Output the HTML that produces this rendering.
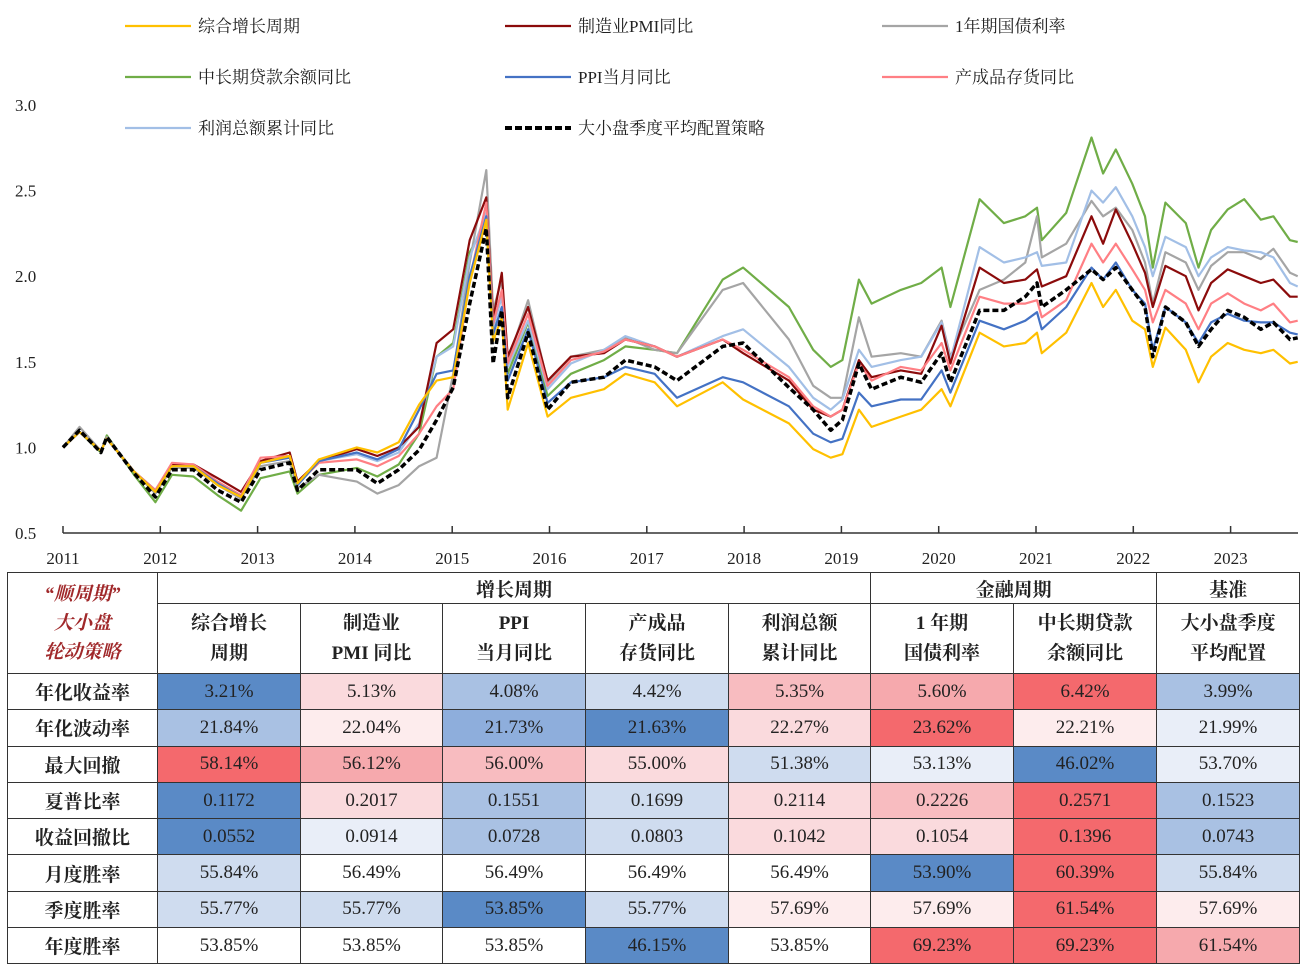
<!DOCTYPE html>
<html><head><meta charset="utf-8">
<style>
body{margin:0;width:1308px;height:963px;background:#fff;overflow:hidden;position:relative;font-family:"Liberation Serif","Noto Serif CJK SC",serif;}
#chart{position:absolute;left:0;top:0;}
table{position:absolute;left:7px;top:572px;border-collapse:collapse;table-layout:fixed;width:1292px;}
td{border:1.5px solid #333;text-align:center;font-size:19px;color:#222;padding:0;overflow:hidden;white-space:nowrap;}
.h1 td{height:30px;font-weight:bold;}
.h2 td{height:69px;line-height:30px;font-weight:bold;}
.r td{height:35.3px;}
.r td:first-child{font-weight:bold;}
.corner{color:#a0282a;font-style:italic;font-weight:bold;line-height:29px;}
.db{background:#5a8ac6}.mb{background:#a9c1e3}.lb{background:#cfdcef}.vb{background:#e9eef8}
.w{background:#fff}.vp{background:#fdeced}.lp{background:#fadadd}.pp{background:#f8bcc0}.mp{background:#f6a9ad}.rd{background:#f4696d}
</style></head><body>
<svg id="chart" width="1308" height="572" font-family="Liberation Serif, Noto Serif CJK SC, serif"></svg>
<table>
<colgroup><col style="width:150px"><col style="width:143px"><col style="width:142px"><col style="width:143px"><col style="width:143px"><col style="width:142px"><col style="width:143px"><col style="width:143px"><col style="width:143px"></colgroup>
<tr class="h1"><td rowspan="2" class="corner">“顺周期”<br>大小盘<br>轮动策略</td><td colspan="5">增长周期</td><td colspan="2">金融周期</td><td>基准</td></tr>
<tr class="h2"><td>综合增长<br>周期</td><td>制造业<br>PMI 同比</td><td>PPI<br>当月同比</td><td>产成品<br>存货同比</td><td>利润总额<br>累计同比</td><td>1 年期<br>国债利率</td><td>中长期贷款<br>余额同比</td><td>大小盘季度<br>平均配置</td></tr>
<tr class="r"><td>年化收益率</td><td class="db">3.21%</td><td class="lp">5.13%</td><td class="mb">4.08%</td><td class="lb">4.42%</td><td class="pp">5.35%</td><td class="mp">5.60%</td><td class="rd">6.42%</td><td class="mb">3.99%</td></tr>
<tr class="r"><td>年化波动率</td><td class="mb">21.84%</td><td class="vp">22.04%</td><td class="mb" style="background:#8eaedc">21.73%</td><td class="db">21.63%</td><td class="lp">22.27%</td><td class="rd">23.62%</td><td class="vp">22.21%</td><td class="vb">21.99%</td></tr>
<tr class="r"><td>最大回撤</td><td class="rd">58.14%</td><td class="mp">56.12%</td><td class="pp">56.00%</td><td class="lp">55.00%</td><td class="lb">51.38%</td><td class="vb">53.13%</td><td class="db">46.02%</td><td class="vb">53.70%</td></tr>
<tr class="r"><td>夏普比率</td><td class="db">0.1172</td><td class="lp">0.2017</td><td class="mb">0.1551</td><td class="lb">0.1699</td><td class="lp">0.2114</td><td class="pp">0.2226</td><td class="rd">0.2571</td><td class="mb">0.1523</td></tr>
<tr class="r"><td>收益回撤比</td><td class="db">0.0552</td><td class="vb">0.0914</td><td class="mb">0.0728</td><td class="lb">0.0803</td><td class="lp">0.1042</td><td class="lp">0.1054</td><td class="rd">0.1396</td><td class="mb">0.0743</td></tr>
<tr class="r"><td>月度胜率</td><td class="lb">55.84%</td><td class="w">56.49%</td><td class="w">56.49%</td><td class="w">56.49%</td><td class="w">56.49%</td><td class="db">53.90%</td><td class="rd">60.39%</td><td class="lb">55.84%</td></tr>
<tr class="r"><td>季度胜率</td><td class="lb">55.77%</td><td class="lb">55.77%</td><td class="db">53.85%</td><td class="lb">55.77%</td><td class="vp">57.69%</td><td class="vp">57.69%</td><td class="rd">61.54%</td><td class="vp">57.69%</td></tr>
<tr class="r"><td>年度胜率</td><td class="w">53.85%</td><td class="w">53.85%</td><td class="w">53.85%</td><td class="db">46.15%</td><td class="w">53.85%</td><td class="rd">69.23%</td><td class="rd">69.23%</td><td class="mp">61.54%</td></tr>
</table>
<script>
const dates=[2011.0,2011.17,2011.39,2011.45,2011.73,2011.95,2012.12,2012.34,2012.59,2012.83,2013.03,2013.33,2013.41,2013.63,2014.02,2014.23,2014.45,2014.66,2014.84,2015.01,2015.18,2015.35,2015.42,2015.51,2015.57,2015.78,2015.98,2016.22,2016.56,2016.78,2017.08,2017.31,2017.78,2017.99,2018.46,2018.71,2018.89,2019.01,2019.18,2019.31,2019.61,2019.82,2020.03,2020.12,2020.42,2020.67,2020.89,2021.01,2021.06,2021.31,2021.57,2021.69,2021.82,2021.99,2022.12,2022.2,2022.33,2022.54,2022.67,2022.8,2022.97,2023.14,2023.31,2023.44,2023.61,2023.69];
const growthComposite=[1.0,1.09,0.98,1.05,0.86,0.74,0.89,0.89,0.78,0.71,0.91,0.95,0.79,0.93,1.0,0.97,1.03,1.25,1.39,1.41,1.96,2.33,1.62,1.76,1.22,1.61,1.18,1.29,1.34,1.43,1.38,1.24,1.38,1.28,1.14,0.99,0.94,0.96,1.22,1.12,1.18,1.22,1.34,1.24,1.67,1.59,1.61,1.67,1.55,1.67,1.96,1.82,1.92,1.74,1.69,1.47,1.70,1.57,1.38,1.53,1.61,1.57,1.55,1.57,1.49,1.50];
const pmiYoY=[1.0,1.09,0.98,1.05,0.86,0.75,0.90,0.90,0.82,0.74,0.92,0.97,0.80,0.92,0.99,0.95,1.0,1.12,1.61,1.69,2.21,2.46,1.75,2.02,1.53,1.82,1.39,1.53,1.55,1.63,1.59,1.53,1.63,1.55,1.39,1.22,1.18,1.22,1.51,1.41,1.45,1.43,1.71,1.49,2.05,1.96,1.98,2.04,1.94,2.0,2.35,2.19,2.39,2.19,2.02,1.82,2.06,2.0,1.80,1.96,2.04,2.0,1.96,1.98,1.88,1.88];
const bondRate1y=[1.0,1.12,0.98,1.06,0.86,0.73,0.88,0.88,0.78,0.70,0.89,0.92,0.76,0.84,0.80,0.73,0.78,0.89,0.94,1.43,2.08,2.62,1.80,1.98,1.50,1.86,1.38,1.53,1.57,1.64,1.57,1.55,1.92,1.96,1.63,1.36,1.29,1.29,1.76,1.53,1.55,1.53,1.74,1.53,1.92,1.98,2.08,2.35,2.11,2.19,2.44,2.35,2.40,2.27,2.08,1.84,2.14,2.08,1.92,2.06,2.14,2.14,2.10,2.16,2.02,2.00];
const loanYoY=[1.0,1.09,0.97,1.07,0.84,0.68,0.84,0.83,0.72,0.63,0.82,0.86,0.73,0.84,0.88,0.83,0.90,1.08,1.53,1.61,2.14,2.31,1.68,1.80,1.43,1.73,1.30,1.43,1.51,1.59,1.57,1.55,1.98,2.05,1.82,1.57,1.47,1.51,1.98,1.84,1.92,1.96,2.05,1.82,2.45,2.31,2.35,2.40,2.21,2.37,2.81,2.60,2.74,2.54,2.35,2.05,2.43,2.31,2.05,2.27,2.39,2.45,2.33,2.35,2.21,2.20];
const ppiYoY=[1.0,1.09,0.98,1.05,0.86,0.74,0.89,0.89,0.79,0.71,0.91,0.94,0.78,0.92,0.97,0.93,0.99,1.22,1.43,1.45,2.0,2.35,1.66,1.82,1.39,1.69,1.26,1.38,1.41,1.47,1.43,1.29,1.41,1.38,1.24,1.08,1.03,1.05,1.32,1.24,1.28,1.28,1.45,1.32,1.74,1.69,1.74,1.79,1.69,1.82,2.05,1.98,2.08,1.92,1.84,1.57,1.82,1.73,1.61,1.73,1.78,1.74,1.73,1.73,1.67,1.66];
const inventoryYoY=[1.0,1.09,0.98,1.05,0.86,0.75,0.91,0.90,0.80,0.72,0.94,0.95,0.79,0.91,0.93,0.89,0.95,1.08,1.24,1.34,1.98,2.43,1.72,1.92,1.49,1.78,1.36,1.51,1.56,1.63,1.59,1.53,1.63,1.57,1.41,1.24,1.18,1.22,1.49,1.39,1.47,1.45,1.61,1.45,1.88,1.84,1.84,1.86,1.76,1.86,2.19,2.08,2.19,2.04,1.92,1.73,1.92,1.84,1.69,1.84,1.90,1.84,1.80,1.84,1.73,1.74];
const profitYoY=[1.0,1.09,0.98,1.05,0.86,0.74,0.90,0.89,0.79,0.72,0.92,0.95,0.78,0.92,0.96,0.92,0.97,1.14,1.53,1.59,2.11,2.37,1.70,1.88,1.47,1.74,1.34,1.49,1.57,1.65,1.59,1.53,1.65,1.69,1.47,1.29,1.22,1.28,1.57,1.47,1.51,1.53,1.73,1.51,2.17,2.08,2.11,2.14,2.06,2.08,2.50,2.43,2.52,2.35,2.17,2.0,2.23,2.17,2.0,2.11,2.17,2.15,2.14,2.11,1.96,1.94];
const benchmark=[1.0,1.10,0.97,1.06,0.85,0.71,0.87,0.87,0.75,0.68,0.87,0.91,0.75,0.87,0.87,0.79,0.87,0.985,1.16,1.35,1.84,2.28,1.49,1.80,1.29,1.67,1.22,1.38,1.41,1.51,1.47,1.39,1.59,1.61,1.35,1.22,1.10,1.16,1.49,1.34,1.41,1.38,1.55,1.38,1.80,1.80,1.88,1.96,1.82,1.92,2.04,1.98,2.05,1.92,1.82,1.53,1.82,1.73,1.59,1.69,1.80,1.76,1.69,1.73,1.63,1.64];
const yTicks=[0.5,1.0,1.5,2.0,2.5,3.0];
const yearTicks=[2011,2012,2013,2014,2015,2016,2017,2018,2019,2020,2021,2022,2023];

const NS='http://www.w3.org/2000/svg';
const svg=document.getElementById('chart');
const X=y=>63+(y-2011)*97.3;
const Y=v=>533-(v-0.5)*171.2;
function mk(tag,attrs,parent){const e=document.createElementNS(NS,tag);for(const k in attrs)e.setAttribute(k,attrs[k]);(parent||svg).appendChild(e);return e;}

yTicks.forEach(v=>{const t=mk('text',{x:15,y:Y(v)+6,'font-size':17,fill:'#222'});t.textContent=v.toFixed(1);

});
const ax=mk('line',{x1:63,x2:1298,y1:533,y2:533,stroke:'#333','stroke-width':1.5});


yearTicks.forEach(yr=>{const tk=mk('line',{x1:X(yr),x2:X(yr),y1:526,y2:533,stroke:'#333','stroke-width':1.5});


const t=mk('text',{x:X(yr),y:564,'font-size':17,'text-anchor':'middle',fill:'#222'});t.textContent=yr;

});

const series=[
 {n:'中长期贷款余额同比',d:loanYoY,c:'#70ad47',name:'series-loan-yoy'},
 {n:'1年期国债利率',d:bondRate1y,c:'#a5a5a5',name:'series-bond-rate'},
 {n:'利润总额累计同比',d:profitYoY,c:'#a2bfe6',name:'series-profit-yoy'},
 {n:'制造业PMI同比',d:pmiYoY,c:'#8b0b0b',name:'series-pmi-yoy'},
 {n:'产成品存货同比',d:inventoryYoY,c:'#ff7f84',name:'series-inventory-yoy'},
 {n:'PPI当月同比',d:ppiYoY,c:'#4472c4',name:'series-ppi-yoy'},
 {n:'综合增长周期',d:growthComposite,c:'#ffc000',name:'series-growth-composite'},
 {n:'大小盘季度平均配置策略',d:benchmark,c:'#000',name:'series-benchmark',dash:true}
];
series.forEach(s=>{
 const pts=s.d.map((v,i)=>X(dates[i]).toFixed(1)+','+Y(v).toFixed(1)).join(' ');
 const p=mk('polyline',{points:pts,fill:'none',stroke:s.c,'stroke-width':s.dash?3.5:2.2,'stroke-linejoin':'round'});
 if(s.dash)p.setAttribute('stroke-dasharray','6 3');
 
 
});

const legend=[
 ['综合增长周期','#ffc000',125,26],['制造业PMI同比','#8b0b0b',505,26],['1年期国债利率','#a5a5a5',882,26],
 ['中长期贷款余额同比','#70ad47',125,77],['PPI当月同比','#4472c4',505,77],['产成品存货同比','#ff7f84',882,77],
 ['利润总额累计同比','#a2bfe6',125,128],['大小盘季度平均配置策略','#000',505,128]];
legend.forEach((l,i)=>{
 const g=mk('g',{});
 
 
 const ln=mk('line',{x1:l[2],x2:l[2]+66,y1:l[3],y2:l[3],stroke:l[1],'stroke-width':l[1]=='#000'?4:2.2},g);
 if(l[1]=='#000')ln.setAttribute('stroke-dasharray','7 3');
 const t=mk('text',{x:l[2]+73,y:l[3]+6,'font-size':17,fill:'#222'},g);t.textContent=l[0];
});
</script>
</body></html>
